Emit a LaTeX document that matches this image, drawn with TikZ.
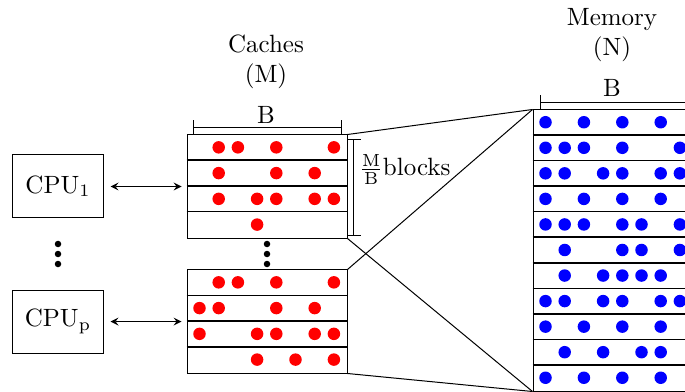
\documentclass[tikz,border=0pt]{standalone}
\usepackage{tikz}
\usetikzlibrary{arrows, shapes, positioning, calc}
\tikzstyle{cpubox} = [draw, thin, minimum width=36pt, minimum height=25.2pt, inner sep=0pt]
\tikzstyle{store} = [draw, thin, minimum width=64pt, inner sep=0pt]
\tikzstyle{link} = [<->, >=stealth]
\tikzstyle{span} = [|-|, thin]
\tikzstyle{row} = [semithick]

\begin{document}
\begin{tikzpicture}[x=0.4pt, y=-0.4pt]
        \useasboundingbox (0,0) rectangle (685,392);
        \clip (0,0) rectangle (685,392);
        % processors
        \node[cpubox] (cpu1) at (58,186.5) {$\mathrm{CPU}_1$};
        \node[cpubox] (cpup) at (58,321.5) {$\mathrm{CPU}_\mathrm{p}$};
        % caches and memory
        \node[store, minimum height=41.2pt] (cacheA) at (267,186.5) {};
        \node[store, minimum height=41.2pt] (cacheB) at (267,321.5) {};
        \node[store, minimum height=112.4pt] (mem) at (613,250.5) {};
        \foreach \r in {1,2,3} {
            \draw[row] ($(cacheA.north west)+(0,\r*25.75)$) -- ++(160,0);
            \draw[row] ($(cacheB.north west)+(0,\r*25.75)$) -- ++(160,0);
        }
        \foreach \r in {1,...,10}
            \draw[row] ($(mem.north west)+(0,\r*25.55)$) -- ++(160,0);
        % labels
        \node[align=center] (cachetitle) at (266,62) {Caches\\(M)};
        \node[align=center] (memtitle) at (612,35) {Memory\\(N)};
        \node (cacheblock) at (266,115) {B};
        \node (memblock) at (612,88) {B};
        \draw[span] ($(cacheA.north west)+(6,-7)$) -- ($(cacheA.north east)+(-6,-7)$);
        \draw[span] ($(mem.north west)+(7,-7)$) -- ($(mem.north east)+(-7,-7)$);
        \draw[span] ($(cacheA.north east)+(6,5)$) -- ($(cacheA.south east)+(6,-3)$);
        \node[anchor=base west, inner sep=1pt] (blocks) at (356,176) {$\frac{\mathrm{M}}{\mathrm{B}}$blocks};
        % dots
        \foreach \cols [count=\r] in {{2,3,5,8},{2,5,7},{2,4,5,7,8},{4}}
            \foreach \c in \cols
                \fill[red] ($(cacheA.north west)+(\c*19.2-6.2,\r*25.75-12.9)$) circle (2.5pt);
        \foreach \cols [count=\r] in {{2,3,5,8},{1,2,5,7},{1,4,5,7,8},{4,6,8}}
            \foreach \c in \cols
                \fill[red] ($(cacheB.north west)+(\c*19.2-6.2,\r*25.75-12.9)$) circle (2.5pt);
        \foreach \cols [count=\r] in {{1,3,5,7},{1,2,3,5,8},{1,2,4,5,7,8},{1,3,5,7},{1,2,3,5,6,8},{2,5,6,8},{2,4,5,6,7},{1,2,4,5,7,8},{1,3,5,7},{2,4,6,7},{1,3,5,7}}
            \foreach \c in \cols
                \fill[blue] ($(mem.north west)+(\c*19.2-6.2,\r*25.55-12.8)$) circle (2.5pt);
        \foreach \d in {-10,0,10} {
            \fill ($(cpu1.south)!0.5!(cpup.north)+(0,\d)$) circle (1.3pt);
            \fill ($(cacheA.south)!0.5!(cacheB.north)+(0,\d)$) circle (1.3pt);
        }
        % connections
        \draw[link, shorten <=2.8pt, shorten >=2pt] (cpu1) -- (cacheA);
        \draw[link, shorten <=2.8pt, shorten >=2pt] (cpup) -- (cacheB);
        \draw (cacheA.north east) -- (mem.north west);
        \draw (cacheB.north east) -- (mem.north west);
        \draw (cacheA.south east) -- (mem.south west);
        \draw (cacheB.south east) -- (mem.south west);
\end{tikzpicture}
\end{document}
